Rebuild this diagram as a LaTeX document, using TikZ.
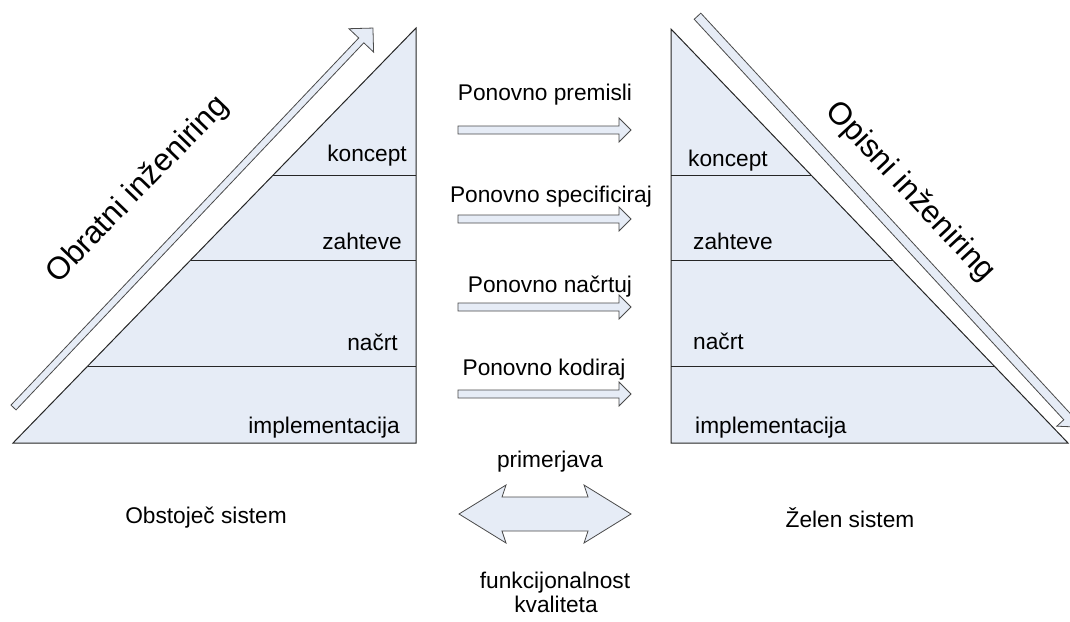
\documentclass[tikz,border=0pt]{standalone}
\usepackage{fontspec}
\setmainfont{Liberation Sans}
\definecolor{paneblue}{HTML}{E6ECF6}
\definecolor{edgegray}{HTML}{262626}
\definecolor{arrowgray}{HTML}{4A4A4A}
\tikzset{
  panel/.style={draw=edgegray, fill=paneblue, line width=1pt, line join=miter},
  band/.style={draw=edgegray, line width=1pt},
  blockarrow/.style={draw=arrowgray, fill=paneblue, line width=0.8pt, line join=miter},
  lbl/.style={font=\fontsize{22.7}{27}\selectfont, inner sep=0pt},
  bigtitle/.style={font=\fontsize{31.5}{36}\selectfont, inner sep=0pt},
}
\begin{document}
\begin{tikzpicture}[x=1pt, y=-1pt]
\useasboundingbox (0,0) rectangle (1070,621);
\clip (0,0) rectangle (1070,621);

% ---- existing system: left pyramid ----
\coordinate (LB) at (13,443);
\coordinate (LA) at (416,28);
\coordinate (LR) at (416,443);
\draw[panel] (LB) -- (LA) -- (LR) -- cycle;
\draw[band] (273.3,175) -- (416,175);
\draw[band] (190.7,260) -- (416,260);
\draw[band] (87.8,366) -- (416,366);

\node[lbl, anchor=base east] (lkon) at (407,161) {koncept};
\node[lbl, anchor=base east] (lzah) at (402,249) {zahteve};
\node[lbl, anchor=base east] (lnac) at (398,350) {načrt};
\node[lbl, anchor=base east] (limp) at (400,433) {implementacija};

% reverse engineering arrow, pointing up along the slope
\begin{scope}[shift={(13.5,407.5)}, rotate=46.55]
  \draw[blockarrow] (0,-3.5) -- (505.7,-3.5) -- (505.7,-17) -- (522.7,0)
        -- (505.7,17) -- (505.7,3.5) -- (0,3.5) -- cycle;
\end{scope}
\node[bigtitle, rotate=46] (rev) at (138,190) {Obratni inženiring};

% ---- desired system: right pyramid ----
\coordinate (RA) at (671,29);
\coordinate (RB) at (671,443);
\coordinate (RR) at (1068,443);
\draw[panel] (RA) -- (RR) -- (RB) -- cycle;
\draw[band] (671,175) -- (811,175);
\draw[band] (671,260) -- (892.5,260);
\draw[band] (671,366) -- (994.2,366);

\node[lbl, anchor=base west] (rkon) at (688,166) {koncept};
\node[lbl, anchor=base west] (rzah) at (693,249) {zahteve};
\node[lbl, anchor=base west] (rnac) at (693,349) {načrt};
\node[lbl, anchor=base west] (rimp) at (695,433) {implementacija};

% forward engineering arrow, pointing down along the slope
\begin{scope}[shift={(697.5,16.2)}, rotate=-47.3]
  \draw[blockarrow] (0,-4.5) -- (545,-4.5) -- (545,-14) -- (559,0)
        -- (545,14) -- (545,4.5) -- (0,4.5) -- cycle;
\end{scope}
\node[bigtitle, rotate=-47] (fwd) at (910,192) {Opisni inženiring};

% ---- re-engineering steps ----
\node[lbl, anchor=base] (s1) at (545,100) {Ponovno premisli};
\node[lbl, anchor=base] (s2) at (551,202) {Ponovno specificiraj};
\node[lbl, anchor=base] (s3) at (550,292) {Ponovno načrtuj};
\node[lbl, anchor=base] (s4) at (544,375) {Ponovno kodiraj};
\foreach \y in {130,219,307,394}
  \draw[blockarrow] (458,\y-4) -- (619,\y-4) -- (619,\y-12) -- (631,\y)
        -- (619,\y+12) -- (619,\y+4) -- (458,\y+4) -- cycle;

% ---- comparison ----
\node[lbl, anchor=base] (cmp) at (550,467) {primerjava};
\draw[blockarrow] (459,514) -- (506,485) -- (502,497) -- (588,497) -- (584,485)
      -- (631,514) -- (584,543) -- (588,531) -- (502,531) -- (506,543) -- cycle;
\node[lbl, anchor=base] (fn) at (555,588) {funkcijonalnost};
\node[lbl, anchor=base] (kv) at (556,612) {kvaliteta};

\node[lbl, anchor=base] (old) at (206,523) {Obstoječ sistem};
\node[lbl, anchor=base] (new) at (850,527) {Želen sistem};
\end{tikzpicture}
\end{document}
